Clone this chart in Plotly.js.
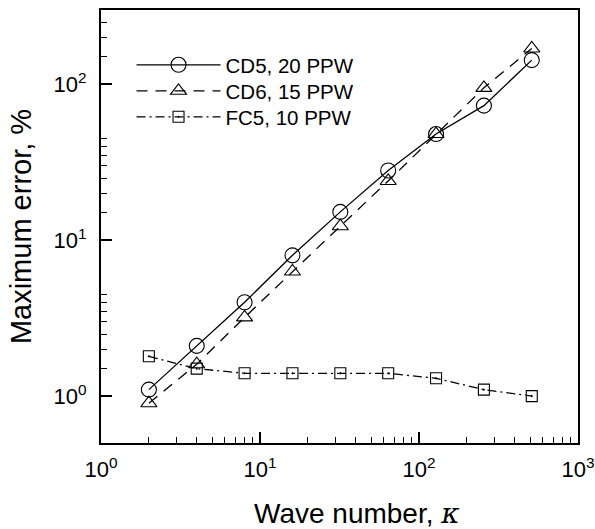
<!DOCTYPE html>
<html>
<head>
<meta charset="utf-8">
<script src="https://cdn.plot.ly/plotly-3.0.1.min.js"></script>
<style>html,body{margin:0;padding:0;background:#fff;}#chart{width:595px;height:529px;}</style>
</head>
<body>
<div id="chart"></div>
<script>
// Data
const waveNumber = [2, 4, 8, 16, 32, 64, 128, 256, 512];
const cd5Error = [1.1, 2.1, 4.0, 8.0, 15.2, 28, 48, 73, 143];
const cd6Error = [0.9, 1.6, 3.2, 6.3, 12.3, 24, 48, 95, 170];
const fc5Error = [1.8, 1.5, 1.4, 1.4, 1.4, 1.4, 1.3, 1.1, 1.0];
const seriesNames = ['CD5, 20 PPW', 'CD6, 15 PPW', 'FC5, 10 PPW'];

const xTickVals = [1, 10, 100, 1000];
const xTickText = ['10<sup>0</sup>', '10<sup>1</sup>', '10<sup>2</sup>', '10<sup>3</sup>'];
const yTickVals = [1, 10, 100];
const yTickText = ['10<sup>0</sup>', '10<sup>1</sup>', '10<sup>2</sup>'];
const xTitle = 'Wave number, <span style="font-family:DejaVu Serif;font-style:italic">κ</span>';
const yTitle = 'Maximum error, %';

function minorTicks(lo, hi) {
  const out = [];
  for (let d = lo; d < hi; d *= 10) {
    for (let k = 2; k <= 9; k++) {
      const v = d * k;
      if (v > lo && v < hi) out.push(v);
    }
  }
  return out;
}

const FONT = 'Liberation Sans, Arial, sans-serif';

const traces = [
  {
    x: waveNumber, y: cd5Error, name: seriesNames[0], mode: 'lines+markers', legend: 'legend',
    line: {color: '#000', width: 1.3, dash: 'solid'},
    marker: {symbol: 'circle-open', size: 15, color: '#000', line: {width: 1.1, color: '#000'}}
  },
  {
    x: waveNumber, y: cd6Error, name: seriesNames[1], mode: 'lines+markers', legend: 'legend2',
    line: {color: '#000', width: 1.3, dash: '11px,8px'},
    marker: {symbol: 'triangle-up-open', size: 14, color: '#000', line: {width: 1.1, color: '#000'}}
  },
  {
    x: waveNumber, y: fc5Error, name: seriesNames[2], mode: 'lines+markers', legend: 'legend3',
    line: {color: '#000', width: 1.3, dash: '9px,4px,2px,4px'},
    marker: {symbol: 'square-open-dot', size: 11, color: '#000', line: {width: 1.1, color: '#000'}}
  }
];

const axisCommon = {
  type: 'log',
  showgrid: false,
  zeroline: false,
  showline: true,
  linecolor: '#000',
  linewidth: 2,
  mirror: true,
  ticks: 'inside',
  ticklen: 11,
  tickwidth: 2,
  tickcolor: '#000',
  tickmode: 'array',
  tickfont: {family: FONT, size: 22, color: '#000'}
};

function legendAt(yPaper) {
  return {
    x: 0.064, y: yPaper, xanchor: 'left', yanchor: 'middle',
    bgcolor: 'rgba(0,0,0,0)',
    font: {family: FONT, size: 20.5, color: '#000'},
    itemwidth: 84
  };
}

const layout = {
  width: 595,
  height: 529,
  margin: {l: 101, r: 17, t: 10, b: 86},
  paper_bgcolor: '#fff',
  plot_bgcolor: '#fff',
  showlegend: true,
  legend: legendAt(0.873),
  legend2: legendAt(0.813),
  legend3: legendAt(0.753),
  xaxis: Object.assign({}, axisCommon, {
    range: [0, 3],
    tickvals: xTickVals,
    ticktext: xTickText,
    ticklabelstandoff: 6,
    minor: {tickmode: 'array', tickvals: minorTicks(1, 1000), ticks: 'inside', ticklen: 6, tickwidth: 1, tickcolor: '#000', showgrid: false}
  }),
  yaxis: Object.assign({}, axisCommon, {
    range: [Math.log10(0.5), Math.log10(300)],
    tickvals: yTickVals,
    ticktext: yTickText,
    ticklabelstandoff: 8,
    minor: {tickmode: 'array', tickvals: minorTicks(0.5, 300), ticks: 'inside', ticklen: 6, tickwidth: 1, tickcolor: '#000', showgrid: false},
    title: {text: yTitle, font: {family: FONT, size: 29, color: '#000'}, standoff: 13}
  }),
  annotations: [
    {
      text: xTitle, xref: 'paper', yref: 'paper', x: 0.537, y: -0.162,
      xanchor: 'center', yanchor: 'middle', showarrow: false,
      font: {family: FONT, size: 28, color: '#000'}
    }
  ]
};

Plotly.newPlot('chart', traces, layout, {displayModeBar: false, staticPlot: true});
</script>
</body>
</html>
